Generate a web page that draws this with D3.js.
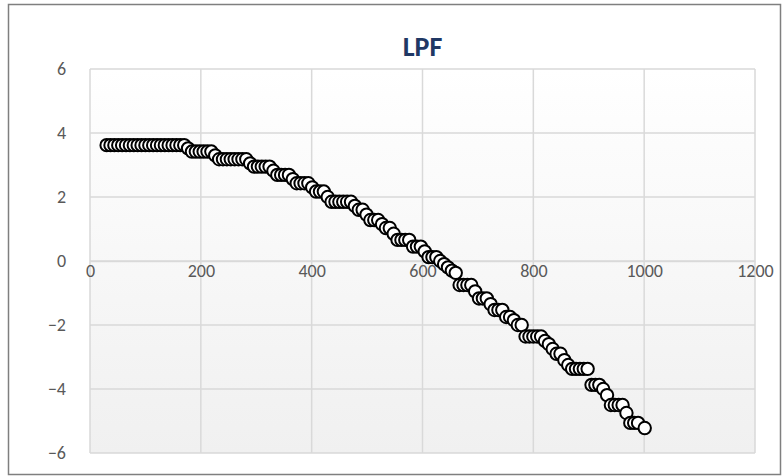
<!DOCTYPE html>
<html>
<head>
<meta charset="utf-8">
<script src="https://cdn.jsdelivr.net/npm/d3@7"></script>
<style>
  html, body { margin: 0; padding: 0; background: #fff; }
  svg { display: block; }
</style>
</head>
<body>
<svg id="chart" width="784" height="476"></svg>
<script>
// Frequency samples (x) and filter response (y)
const xValues = [
  30, 37, 44, 51, 58, 65, 72, 79, 86, 93, 100, 107, 114, 121, 128, 135, 142, 149, 156, 163, 170,
  177, 184, 191, 198, 205, 212, 219, 226, 233, 240, 247, 254, 261, 268, 275, 282,
  289, 296, 303, 310, 317, 324, 331, 338, 345, 352, 359, 366, 373, 380, 387, 394,
  401, 408, 415, 422, 429, 436, 443, 450, 457, 464, 471, 478, 485, 492, 499, 506,
  513, 520, 527, 534, 541, 548, 555, 562, 569, 576, 583, 590, 597, 604, 611, 618,
  625, 632, 639, 646, 653, 660, 667, 674, 681, 688, 695, 702, 709, 716, 723, 730,
  737, 744, 751, 758, 765, 772, 779, 786, 793, 800, 807, 814, 821, 828, 835, 842,
  849, 856, 863, 870, 877, 884, 891, 898, 905, 912, 919, 926, 933, 940, 947, 954,
  961, 968, 975, 982, 989, 1001
];
const yValues = [
  3.62, 3.62, 3.62, 3.62, 3.62, 3.62, 3.62, 3.62, 3.62, 3.62, 3.62, 3.62, 3.62, 3.62, 3.62, 3.62, 3.62, 3.62, 3.62, 3.62, 3.62,
  3.52, 3.42, 3.42, 3.42, 3.42, 3.42, 3.42, 3.3, 3.18, 3.18, 3.18, 3.18, 3.18, 3.18, 3.18, 3.18,
  3.05, 2.95, 2.95, 2.95, 2.95, 2.95, 2.82, 2.69, 2.69, 2.69, 2.69, 2.56, 2.43, 2.43, 2.43, 2.43,
  2.3, 2.17, 2.17, 2.17, 2.0, 1.85, 1.85, 1.85, 1.85, 1.85, 1.85, 1.72, 1.6, 1.6, 1.45, 1.28,
  1.28, 1.28, 1.15, 1.03, 1.03, 0.85, 0.66, 0.66, 0.66, 0.66, 0.45, 0.45, 0.45, 0.3, 0.12, 0.12,
  0.12, 0.0, -0.1, -0.2, -0.3, -0.37, -0.75, -0.75, -0.75, -0.75, -0.95, -1.17, -1.17, -1.17, -1.35, -1.53,
  -1.53, -1.53, -1.75, -1.75, -1.85, -2.0, -2.0, -2.36, -2.36, -2.36, -2.36, -2.36, -2.5, -2.6, -2.75, -2.9,
  -2.9, -3.1, -3.25, -3.37, -3.37, -3.37, -3.37, -3.37, -3.87, -3.87, -3.87, -4.0, -4.19, -4.5, -4.5, -4.5,
  -4.5, -4.75, -5.06, -5.06, -5.06, -5.22
];
const xTicks = [0, 200, 400, 600, 800, 1000, 1200];
const yTicks = [-6, -4, -2, 0, 2, 4, 6];
const chartTitle = "LPF";

const points = xValues.map((x, i) => ({ x, y: yValues[i] }));

const svg = d3.select("#chart");
const fontFamily = "Carlito, Lato, 'Open Sans', sans-serif";
const plot = { left: 90, right: 755, top: 69, bottom: 453 };

const x = d3.scaleLinear().domain([0, 1200]).range([plot.left, plot.right]);
const y = d3.scaleLinear().domain([-6, 6]).range([plot.bottom, plot.top]);

// Outer chart frame
svg.append("rect")
  .attr("x", 8.5).attr("y", 4.5)
  .attr("width", 772).attr("height", 470)
  .attr("fill", "#fff")
  .attr("stroke", "#7f7f7f")
  .attr("stroke-width", 1.5);

// Plot area background with a soft vertical gradient
const defs = svg.append("defs");
const grad = defs.append("linearGradient")
  .attr("id", "plotBg").attr("x1", 0).attr("y1", 0).attr("x2", 0).attr("y2", 1);
grad.append("stop").attr("offset", "0%").attr("stop-color", "#ffffff");
grad.append("stop").attr("offset", "100%").attr("stop-color", "#f0f0f0");

svg.append("rect")
  .attr("x", plot.left).attr("y", plot.top)
  .attr("width", plot.right - plot.left).attr("height", plot.bottom - plot.top)
  .attr("fill", "url(#plotBg)");

// Gridlines
const grid = svg.append("g").attr("stroke", "#d9d9d9").attr("stroke-width", 1.5);
grid.selectAll("line.h").data(yTicks).join("line")
  .attr("class", "h")
  .attr("x1", plot.left).attr("x2", plot.right)
  .attr("y1", d => y(d)).attr("y2", d => y(d));
grid.selectAll("line.v").data(xTicks).join("line")
  .attr("class", "v")
  .attr("y1", plot.top).attr("y2", plot.bottom)
  .attr("x1", d => x(d)).attr("x2", d => x(d));

// Horizontal axis crossing at y = 0
const xAxis = d3.axisBottom(x).tickValues(xTicks).tickSize(0).tickPadding(3).tickFormat(d3.format("d"));
const gx = svg.append("g").attr("transform", `translate(0,${y(0)})`).call(xAxis);
gx.select(".domain").attr("stroke", "#d9d9d9").attr("stroke-width", 1.5);
gx.selectAll("text")
  .attr("font-family", fontFamily).attr("font-size", 18).attr("fill", "#595959");

// Vertical axis on the left
const yAxis = d3.axisLeft(y).tickValues(yTicks).tickSize(0).tickPadding(24).tickFormat(d3.format("d"));
const gy = svg.append("g").attr("transform", `translate(${plot.left},0)`).call(yAxis);
gy.select(".domain").remove();
gy.selectAll("text")
  .attr("font-family", fontFamily).attr("font-size", 18).attr("fill", "#595959");

// Title
svg.append("text")
  .attr("x", (plot.left + plot.right) / 2).attr("y", 56)
  .attr("text-anchor", "middle")
  .attr("font-family", fontFamily).attr("font-size", 28).attr("font-weight", "bold")
  .attr("fill", "#1f3864")
  .text(chartTitle);

// Markers
svg.append("g").selectAll("circle").data(points).join("circle")
  .attr("cx", d => x(d.x)).attr("cy", d => y(d.y))
  .attr("r", 6.2)
  .attr("fill", "#fff")
  .attr("stroke", "#000")
  .attr("stroke-width", 2);
</script>
</body>
</html>
